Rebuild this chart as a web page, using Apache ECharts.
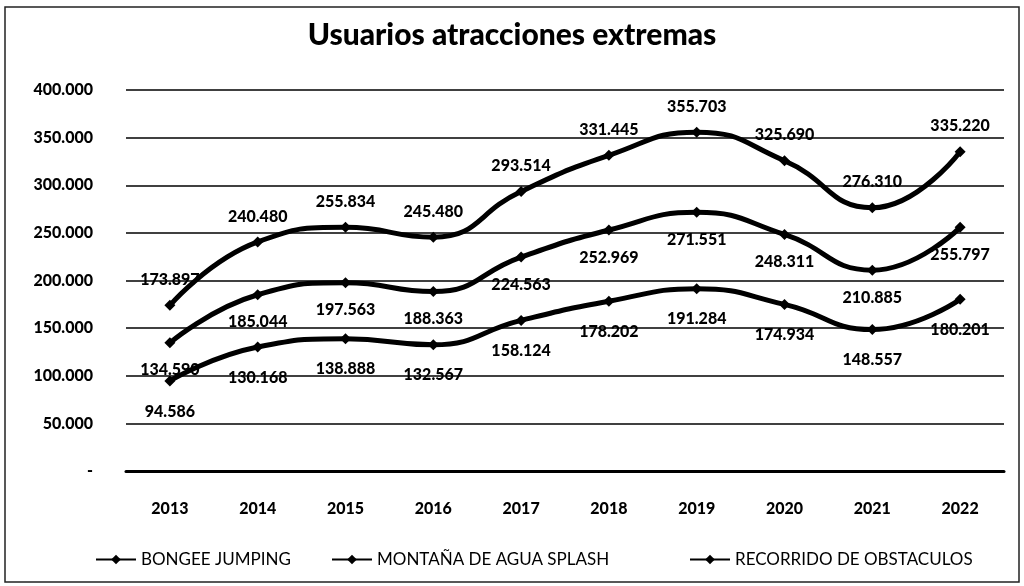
<!DOCTYPE html>
<html>
<head>
<meta charset="utf-8">
<script src="https://cdn.jsdelivr.net/npm/echarts@6/dist/echarts.min.js"></script>
<style>
  html, body { margin: 0; padding: 0; background: #fff; }
  #chart { width: 1024px; height: 586px; }
</style>
</head>
<body>
<div id="chart"></div>
<script>
var years = ['2013', '2014', '2015', '2016', '2017', '2018', '2019', '2020', '2021', '2022'];
var seriesNames = ['BONGEE JUMPING', 'MONTAÑA DE AGUA SPLASH', 'RECORRIDO DE OBSTACULOS'];
var bongee = [94586, 130168, 138888, 132567, 158124, 178202, 191284, 174934, 148557, 180201];
var montana = [134590, 185044, 197563, 188363, 224563, 252969, 271551, 248311, 210885, 255797];
var recorrido = [173897, 240480, 255834, 245480, 293514, 331445, 355703, 325690, 276310, 335220];

var FONT = 'Lato';

// formato con punto de miles
function miles(v) {
    if (v === 0) return '-';
    return String(v).replace(/\B(?=(\d{3})+(?!\d))/g, '.');
}

function lineSerie(name, data, pos, dist) {
    return {
        name: name,
        type: 'line',
        data: data,
        smooth: 0.5,
        symbol: 'diamond',
        symbolSize: 11,
        lineStyle: { color: '#000', width: 5 },
        itemStyle: { color: '#000' },
        label: {
            show: true,
            position: pos,
            distance: dist,
            color: '#000',
            fontFamily: FONT,
            fontWeight: 900,
            fontSize: 16,
            formatter: function (p) { return miles(p.value); }
        }
    };
}

var legendBase = {
    top: 546,
    itemWidth: 40,
    itemHeight: 12,
    textStyle: { color: '#000', fontFamily: FONT, fontSize: 17 }
};

var chart = echarts.init(document.getElementById('chart'));
var option = {
    backgroundColor: '#fff',
    animation: false,
    title: {
        text: 'Usuarios atracciones extremas',
        left: 'center',
        top: 15,
        textStyle: { color: '#000', fontFamily: FONT, fontWeight: 900, fontSize: 30 }
    },
    legend: [
        Object.assign({ left: 90, data: [seriesNames[0]] }, legendBase),
        Object.assign({ left: 326, data: [seriesNames[1]] }, legendBase),
        Object.assign({ left: 684, data: [seriesNames[2]] }, legendBase)
    ],
    grid: { left: 126, right: 20, top: 90, bottom: 115, containLabel: false },
    xAxis: {
        type: 'category',
        data: years,
        axisLine: { lineStyle: { color: '#000', width: 3 } },
        axisTick: { show: false },
        axisLabel: { color: '#000', fontFamily: FONT, fontWeight: 900, fontSize: 16, margin: 30 }
    },
    yAxis: {
        type: 'value',
        min: 0,
        max: 400000,
        interval: 50000,
        axisLine: { show: false },
        axisTick: { show: false },
        splitLine: { lineStyle: { color: '#000', width: 1.5 } },
        axisLabel: {
            color: '#000', fontFamily: FONT, fontWeight: 900, fontSize: 16, margin: 33,
            formatter: miles
        }
    },
    graphic: [{
        type: 'rect',
        shape: { x: 5, y: 7, width: 1014, height: 575 },
        style: { fill: 'none', stroke: '#222', lineWidth: 1.5 }
    }],
    series: [
        lineSerie(seriesNames[0], bongee, 'bottom', 17),
        lineSerie(seriesNames[1], montana, 'bottom', 14),
        lineSerie(seriesNames[2], recorrido, 'top', 12)
    ]
};
chart.setOption(option);
</script>
</body>
</html>
